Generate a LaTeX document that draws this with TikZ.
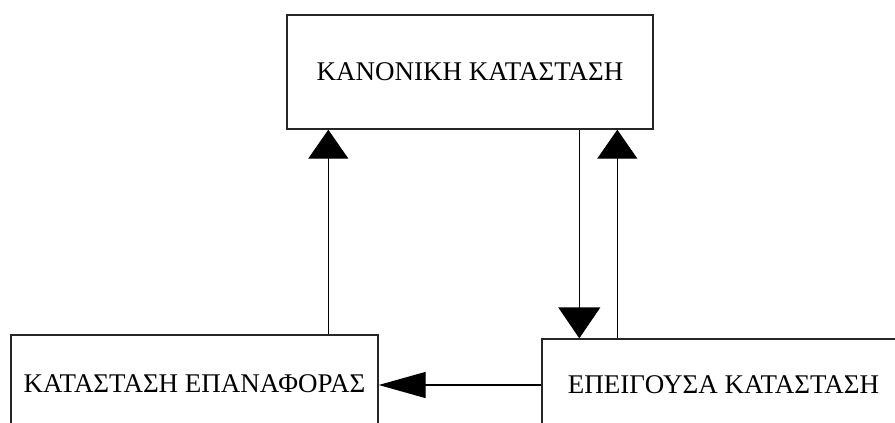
\documentclass[tikz,border=0pt]{standalone}
\usepackage{fontspec}
\setmainfont{Liberation Serif}
\usetikzlibrary{arrows.meta}
\begin{document}
\begin{tikzpicture}[x=1pt,y=-1pt,
  statebox/.style={draw=black!85, line width=1.4pt, rectangle, inner sep=0pt,
    font=\fontsize{27}{32}\selectfont},
  link/.style={line width=1.4pt, black},
  vhead/.style={-{Triangle[width=40pt,length=29pt]}},
  hhead/.style={-{Triangle[width=26pt,length=47pt]}}]
  \useasboundingbox (0,0) rectangle (895,423);
  \begin{scope}
  \clip (0,0) rectangle (895,423);
  \node[statebox, minimum width=366pt, minimum height=114pt] (normal) at (470,72) {ΚΑΝΟΝΙΚΗ ΚΑΤΑΣΤΑΣΗ};
  \node[statebox, minimum width=367pt, minimum height=98pt] (reset) at (194.5,384) {ΚΑΤΑΣΤΑΣΗ ΕΠΑΝΑΦΟΡΑΣ};
  \node[statebox, minimum width=363pt, minimum height=92pt] (urgent) at (723.5,385) {ΕΠΕΙΓΟΥΣΑ ΚΑΤΑΣΤΑΣΗ};
  % reset -> normal
  \draw[link, vhead] ([xshift=318pt]reset.north west) -- ([xshift=318pt]reset.north west |- normal.south);
  % normal -> urgent
  \draw[link, {Triangle[width=42pt,length=31pt]}-] ([xshift=38pt]urgent.north west) -- ([xshift=38pt]urgent.north west |- normal.south);
  % urgent -> normal
  \draw[link, vhead] ([xshift=76pt]urgent.north west) -- ([xshift=76pt]urgent.north west |- normal.south);
  % urgent -> reset
  \draw[link, hhead] (urgent.west) -- (urgent.west -| reset.east);
  \end{scope}
\end{tikzpicture}
\end{document}
